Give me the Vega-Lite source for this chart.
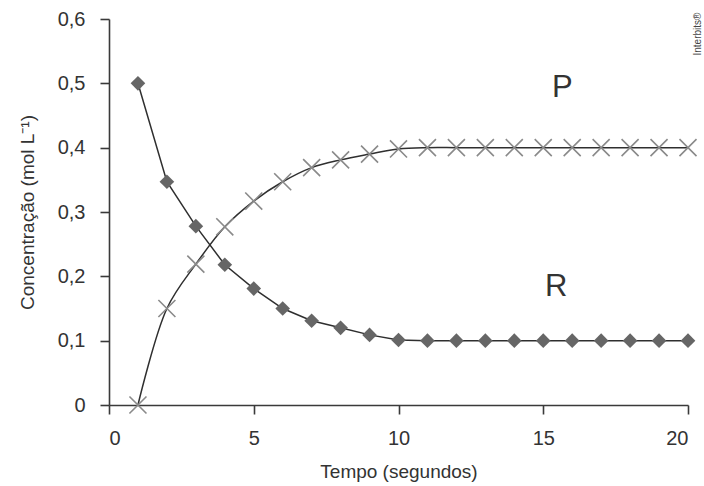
{
  "$schema": "https://vega.github.io/schema/vega-lite/v6.json",
  "width": 579,
  "height": 386,
  "autosize": {"type": "none"},
  "padding": {"left": 109, "top": 19, "right": 16, "bottom": 81},
  "background": "white",
  "config": {
    "view": {"stroke": null},
    "font": "Liberation Sans",
    "axis": {
      "grid": false,
      "domainColor": "#3a3a3a",
      "tickColor": "#3a3a3a",
      "domainWidth": 1.6,
      "tickWidth": 1.6,
      "tickSize": 9,
      "labelFont": "Liberation Sans",
      "labelFontSize": 20,
      "labelColor": "#333333",
      "titleFont": "Liberation Sans",
      "titleFontSize": 19,
      "titleFontWeight": "normal",
      "titleColor": "#333333"
    }
  },
  "datasets": {
    "series": [
      {"t": 1, "c": 0.5, "s": "R"},
      {"t": 2, "c": 0.347, "s": "R"},
      {"t": 3, "c": 0.278, "s": "R"},
      {"t": 4, "c": 0.218, "s": "R"},
      {"t": 5, "c": 0.181, "s": "R"},
      {"t": 6, "c": 0.15, "s": "R"},
      {"t": 7, "c": 0.131, "s": "R"},
      {"t": 8, "c": 0.12, "s": "R"},
      {"t": 9, "c": 0.109, "s": "R"},
      {"t": 10, "c": 0.101, "s": "R"},
      {"t": 11, "c": 0.1, "s": "R"},
      {"t": 12, "c": 0.1, "s": "R"},
      {"t": 13, "c": 0.1, "s": "R"},
      {"t": 14, "c": 0.1, "s": "R"},
      {"t": 15, "c": 0.1, "s": "R"},
      {"t": 16, "c": 0.1, "s": "R"},
      {"t": 17, "c": 0.1, "s": "R"},
      {"t": 18, "c": 0.1, "s": "R"},
      {"t": 19, "c": 0.1, "s": "R"},
      {"t": 20, "c": 0.1, "s": "R"},
      {"t": 1, "c": 0.0, "s": "P"},
      {"t": 2, "c": 0.15, "s": "P"},
      {"t": 3, "c": 0.219, "s": "P"},
      {"t": 4, "c": 0.277, "s": "P"},
      {"t": 5, "c": 0.317, "s": "P"},
      {"t": 6, "c": 0.347, "s": "P"},
      {"t": 7, "c": 0.369, "s": "P"},
      {"t": 8, "c": 0.381, "s": "P"},
      {"t": 9, "c": 0.39, "s": "P"},
      {"t": 10, "c": 0.398, "s": "P"},
      {"t": 11, "c": 0.4, "s": "P"},
      {"t": 12, "c": 0.4, "s": "P"},
      {"t": 13, "c": 0.4, "s": "P"},
      {"t": 14, "c": 0.4, "s": "P"},
      {"t": 15, "c": 0.4, "s": "P"},
      {"t": 16, "c": 0.4, "s": "P"},
      {"t": 17, "c": 0.4, "s": "P"},
      {"t": 18, "c": 0.4, "s": "P"},
      {"t": 19, "c": 0.4, "s": "P"},
      {"t": 20, "c": 0.4, "s": "P"}
    ],
    "labels": [
      {"t": 15.66, "c": 0.493, "txt": "P"},
      {"t": 15.45, "c": 0.184, "txt": "R"}
    ],
    "credit": [
      {"t": 20.36, "c": 0.61, "txt": "Interbits®"}
    ]
  },
  "layer": [
    {
      "data": {"name": "series"},
      "transform": [{"filter": "datum.s === 'P'"}],
      "mark": {"type": "line", "interpolate": "catmull-rom", "color": "#2f2f2f", "strokeWidth": 1.5},
      "encoding": {
        "x": {
          "field": "t", "type": "quantitative",
          "scale": {"domain": [0, 20], "nice": false},
          "axis": {"values": [0, 5, 10, 15, 20], "title": "Tempo (segundos)", "labelPadding": 14, "titlePadding": 14}
        },
        "y": {
          "field": "c", "type": "quantitative",
          "scale": {"domain": [0, 0.6], "nice": false},
          "axis": {
            "values": [0, 0.1, 0.2, 0.3, 0.4, 0.5, 0.6],
            "labelExpr": "replace(format(datum.value, '.1~f'), '.', ',')",
            "title": "Concentração (mol L⁻¹)",
            "labelPadding": 15,
            "titlePadding": 20
          }
        }
      }
    },
    {
      "data": {"name": "series"},
      "transform": [{"filter": "datum.s === 'R'"}],
      "mark": {"type": "line", "interpolate": "linear", "color": "#2f2f2f", "strokeWidth": 1.5},
      "encoding": {
        "x": {"field": "t", "type": "quantitative"},
        "y": {"field": "c", "type": "quantitative"}
      }
    },
    {
      "data": {"name": "series"},
      "transform": [{"filter": "datum.s === 'P'"}],
      "mark": {
        "type": "point",
        "shape": "M-1,-1L1,1M-1,1L1,-1",
        "filled": false,
        "color": "#8a8a8a",
        "strokeWidth": 1.6,
        "size": 290,
        "opacity": 1
      },
      "encoding": {
        "x": {"field": "t", "type": "quantitative"},
        "y": {"field": "c", "type": "quantitative"}
      }
    },
    {
      "data": {"name": "series"},
      "transform": [{"filter": "datum.s === 'R'"}],
      "mark": {"type": "point", "shape": "diamond", "filled": true, "color": "#666666", "size": 215, "opacity": 1},
      "encoding": {
        "x": {"field": "t", "type": "quantitative"},
        "y": {"field": "c", "type": "quantitative"}
      }
    },
    {
      "data": {"name": "labels"},
      "mark": {"type": "text", "fontSize": 31, "color": "#333333", "font": "Liberation Sans"},
      "encoding": {
        "x": {"field": "t", "type": "quantitative"},
        "y": {"field": "c", "type": "quantitative"},
        "text": {"field": "txt"}
      }
    },
    {
      "data": {"name": "credit"},
      "mark": {"type": "text", "fontSize": 10, "color": "#444444", "angle": 270, "align": "right", "baseline": "middle", "clip": false, "font": "Liberation Sans"},
      "encoding": {
        "x": {"field": "t", "type": "quantitative"},
        "y": {"field": "c", "type": "quantitative"},
        "text": {"field": "txt"}
      }
    }
  ]
}
